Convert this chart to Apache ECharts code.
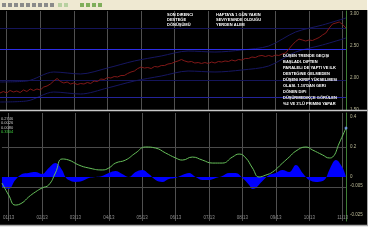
<!DOCTYPE html>
<html><head><meta charset="utf-8">
<script src="https://cdn.jsdelivr.net/npm/echarts@6/dist/echarts.min.js"></script>
<style>html,body{margin:0;padding:0;background:#fff}#c{width:380px;height:240px}</style>
</head><body><div id="c"></div>
<script>
// ---- data ----
const categories = Array.from({length: 104}, (_, i) => String(i));
const tickLabels = ["01/13","02/13","03/13","04/13","05/13","06/13","07/13","08/13","09/13","10/13","11/13"];
const price = [1.766,1.789,1.766,1.805,1.781,1.797,1.773,1.813,1.789,1.828,
 1.805,1.828,1.813,1.859,1.875,1.906,1.953,1.992,1.945,1.922,
 1.938,1.906,1.922,1.898,1.914,1.906,1.930,1.914,1.953,1.945,
 1.984,1.977,2.008,2.000,2.023,2.016,2.039,2.039,2.070,2.094,
 2.109,2.148,2.172,2.156,2.164,2.148,2.180,2.172,2.195,2.195,
 2.219,2.227,2.250,2.266,2.289,2.266,2.250,2.258,2.234,2.242,
 2.227,2.242,2.227,2.250,2.234,2.258,2.250,2.266,2.258,2.281,
 2.266,2.289,2.281,2.305,2.305,2.328,2.320,2.344,2.352,2.336,
 2.352,2.336,2.359,2.352,2.375,2.391,2.453,2.516,2.570,2.609,
 2.594,2.578,2.594,2.586,2.609,2.633,2.672,2.703,2.781,2.844,
 2.859,2.875,2.836,2.781];
const bandIdx = [0,8,16,24,32,40,48,56,64,72,80,88,96,103];
const upperBand = [1.938,1.953,2.094,2.063,2.156,2.266,2.344,2.422,2.406,2.438,2.500,2.719,2.828,2.938];
const lowerBand = [1.625,1.641,1.781,1.750,1.844,1.953,2.031,2.109,2.094,2.125,2.188,2.406,2.516,2.625];
const topLevels = [2.766, 2.453, 1.969, 1.703];
const topTicks = [3.0, 2.5, 2.0, 1.5];
const oscIdx = [0,2,4,6,8,10,12,14,16,18,20,23,26,30,32,34,37,40,43,46,49,52,54,57,60,63,66,69,71,73,75,77,79,81,84,86,88,91,93,96,98,99,101,103];
const oscVal = [-0.04,-0.12,-0.187,-0.173,-0.133,-0.10,-0.073,-0.053,0.027,0.12,0.113,0.08,0.06,0.047,0.06,0.093,0.113,0.16,0.20,0.193,0.16,0.127,0.113,0.133,0.113,0.093,0.093,0.133,0.153,0.127,0.06,0.0,0.013,0.033,0.093,0.133,0.173,0.20,0.18,0.147,0.127,0.133,0.227,0.327];
const histIdx = [0,2,4,6,8,10,12,14,16,18,19,20,22,24,26,28,30,32,34,36,38,40,42,44,46,48,50,52,54,56,58,60,62,64,66,68,70,72,74,75,76,78,80,82,84,86,88,90,91,92,94,96,97,98,100,102,103];
const histVal = [-0.067,-0.08,-0.02,0.02,0.027,0.033,0.02,0.06,0.093,0.047,0,-0.02,-0.033,-0.027,-0.007,0,0.007,0.027,0.04,0.02,0,0.033,0.047,0.02,-0.02,-0.033,-0.013,-0.007,0.013,0.027,0,-0.02,-0.02,-0.007,0.007,0.027,0.027,-0.007,-0.053,-0.08,-0.073,-0.027,0.013,0.027,0.047,0.033,0.08,0.027,0,-0.02,-0.033,-0.027,-0.007,0.047,0.113,0.06,0];
const bottomLevels = [0.2, -0.073];
const bottomTicks = [0.4, 0.2, 0, -0.06, -0.253];
const bottomTickText = ["0.4","0.2","0","-0.005","-0.025"];
const legendTexts = ["0.2746","0.0026","0.0080","0.3304"];
const ann1 = ["SON DİRENCİ","DESTEĞE","DÖNÜŞÜMÜ"];
const ann2 = ["HAFTAYA 1 GÜN YAKIN","SEVİYESİNDE OLDUĞU","YERDEN ALIMI"];
const ann3 = ["DÜŞEN TRENDE GEÇİŞİ","BAŞLADI. DİPTEN","PARALELİ DE YAPTI VE İLK","DESTEĞİNE GELMEDEN","DÜŞENİ KIRIP YÜKSELMESİ","OLASI. 1.10'DAN GERİ","DÖNEN DİPİ","DÜŞÜRMEDİKÇE GÖRÜLEN","%2 VE 3'LÜ PRİMİNİ YAPAR"];

// ---- build ----
const pairs = (xs, ys) => xs.map((x, k) => [x, ys[k]]);
const showIdx = (i) => (i - 2) % 10 === 0;
const FONT = '"Liberation Sans", Arial, sans-serif';
const gridLineColor = '#505050';
const axisGreen = '#3f7f35';

const chart = echarts.init(document.getElementById('c'), null, {renderer: 'canvas'});

const toolbarIcons = [];
[2,8,14,20,26,32,38,44,50].forEach(x => toolbarIcons.push({type:'rect', shape:{x:x, y:3, width:4, height:4}, style:{fill:'#8a8a8a'}, z:-5}));
[58,64].forEach(x => toolbarIcons.push({type:'rect', shape:{x:x, y:3, width:4, height:4}, style:{fill:'#b8d0a0'}, z:-5}));
[80,86,92,98].forEach(x => toolbarIcons.push({type:'rect', shape:{x:x, y:3, width:4, height:4}, style:{fill:'#7fae5a'}, z:-5}));

const legendGraphics = legendTexts.map((t, k) => ({
  type: 'text', left: 1, top: 117 + k * 4.3, z: 50,
  style: { text: t, fontSize: 4, fontFamily: FONT, fill: k === 3 ? '#3fd43f' : '#c8c8c8' }
}));

chart.setOption({
  backgroundColor: '#ffffff',
  animation: false,
  graphic: [
    {type:'rect', shape:{x:0, y:0, width:367, height:10}, style:{fill:'#efe9d2'}, z:-10},
    {type:'rect', shape:{x:0, y:10, width:367, height:215}, style:{fill:'#000000'}, z:-10},
    {type:'line', shape:{x1:0, y1:110.5, x2:367, y2:110.5}, style:{stroke:'#c8c8c8', lineWidth:1.5}, z:40},
    {type:'line', shape:{x1:0, y1:225.5, x2:368, y2:225.5}, style:{stroke:'#a8a8a8', lineWidth:1.5}, z:40},
    {type:'line', shape:{x1:367.5, y1:10, x2:367.5, y2:226}, style:{stroke:'#a8a8a8', lineWidth:1}, z:40},
    ...toolbarIcons,
    ...legendGraphics,
    {type:'text', left:167, top:12.5, z:50, style:{text: ann1.join('\n'), fontSize:4, fontWeight:'bold', fontFamily:FONT, fill:'#ffffff', lineHeight:5}},
    {type:'text', left:216, top:12.5, z:50, style:{text: ann2.join('\n'), fontSize:4, fontWeight:'bold', fontFamily:FONT, fill:'#ffffff', lineHeight:5}},
    {type:'text', left:283, top:52.5, z:50, style:{text: ann3.join('\n'), fontSize:4, fontWeight:'bold', fontFamily:FONT, fill:'#ffffff', lineHeight:6}}
  ],
  grid: [
    {left: 0, right: 34, top: 11, height: 99},
    {left: 0, right: 34, top: 113, height: 108}
  ],
  xAxis: [
    {type:'category', gridIndex:0, data:categories, boundaryGap:false,
     axisLine:{show:false}, axisTick:{show:false}, axisLabel:{show:false},
     splitLine:{show:true, interval: showIdx, lineStyle:{color:gridLineColor, width:1}}},
    {type:'category', gridIndex:1, data:categories, boundaryGap:false,
     axisLine:{show:false}, axisTick:{show:false},
     axisLabel:{show:true, inside:true, margin:1, interval: showIdx, fontSize:4.5, fontFamily:FONT, color:'#8f8f8f',
       formatter:(v, i) => tickLabels[(Number(v) - 2) / 10] || ''},
     splitLine:{show:true, interval: showIdx, lineStyle:{color:gridLineColor, width:1}}}
  ],
  yAxis: [
    {type:'value', gridIndex:0, position:'right', min:1.5, max:3.047, scale:true,
     axisLine:{show:true, lineStyle:{color:axisGreen, width:1}}, axisTick:{show:false},
     axisLabel:{show:true, margin:4, fontSize:4.5, fontFamily:FONT, color:'#bdbb98', customValues: topTicks,
       formatter:(v) => Number(v).toFixed(2)},
     splitLine:{show:false}},
    {type:'value', gridIndex:1, position:'right', min:-0.2933, max:0.4267,
     axisLine:{show:true, lineStyle:{color:axisGreen, width:1}}, axisTick:{show:false},
     axisLabel:{show:true, margin:4, fontSize:4.5, fontFamily:FONT, color:'#bdbb98', customValues: bottomTicks,
       formatter:(v) => { const k = bottomTicks.findIndex(t => Math.abs(t - v) < 1e-6); return k >= 0 ? bottomTickText[k] : ''; }},
     splitLine:{show:false}}
  ],
  series: [
    {type:'line', name:'upper', xAxisIndex:0, yAxisIndex:0, data: pairs(bandIdx, upperBand), smooth:0.3,
     symbol:'none', lineStyle:{color:'#161660', width:1}, z:3},
    {type:'line', name:'lower', xAxisIndex:0, yAxisIndex:0, data: pairs(bandIdx, lowerBand), smooth:0.3,
     symbol:'none', lineStyle:{color:'#161660', width:1}, z:3},
    {type:'line', name:'price', xAxisIndex:0, yAxisIndex:0, data: price, symbol:'none',
     lineStyle:{color:'#801818', width:1}, z:5,
     markLine:{silent:true, symbol:'none', label:{show:false},
       data: topLevels.map((v, k) => ({yAxis: v, lineStyle:{color: k === 1 ? '#2d2de6' : (k === 3 ? '#23239a' : '#15155a'), width:1, type:'solid'}}))}},
    {type:'line', name:'hist', xAxisIndex:1, yAxisIndex:1, data: pairs(histIdx, histVal), smooth:0.4,
     symbol:'none', lineStyle:{width:0, color:'#0000ff'}, areaStyle:{color:'#0000ff', opacity:1}, z:3,
     markLine:{silent:true, symbol:'none', label:{show:false},
       data: bottomLevels.map(v => ({yAxis: v, lineStyle:{color:'#4a4a4a', width:1, type:'solid'}}))}},
    {type:'line', name:'osc', xAxisIndex:1, yAxisIndex:1, data: pairs(oscIdx, oscVal), smooth:0.5,
     symbol:'none', lineStyle:{color:'#66bf5a', width:1}, z:5},
    {type:'scatter', xAxisIndex:1, yAxisIndex:1, data:[[oscIdx[oscIdx.length-1], oscVal[oscVal.length-1]]],
     symbol:'circle', symbolSize:3, itemStyle:{color:'#7aa0ff'}, z:6}
  ]
});
</script></body></html>
